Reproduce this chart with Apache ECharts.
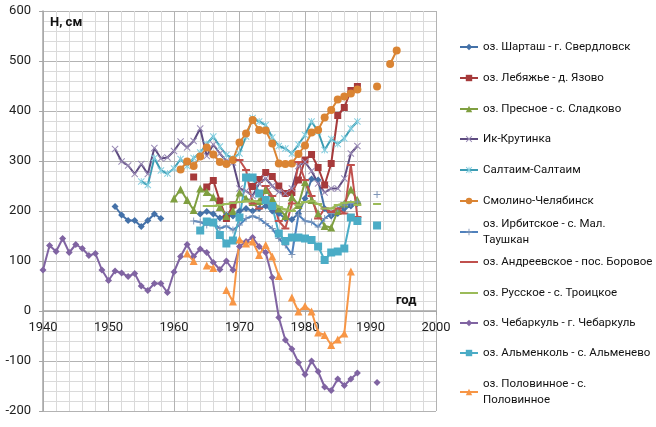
<!DOCTYPE html>
<html>
<head>
<meta charset="utf-8">
<script src="https://cdn.jsdelivr.net/npm/echarts@6/dist/echarts.min.js"></script>
<style>
  html, body { margin: 0; padding: 0; background: #fff; }
  #main { width: 656px; height: 427px; }
</style>
</head>
<body>
<div id="main"></div>
<script>
// годы начала рядов и уровни (см), null - нет данных
var shartashStart = 1951
var shartash = [209, 192, 181, 181, 169, 181, 194, 185, null, null, null, null, null,
  194, 199, 194, 186, 192, 190, 200, 205, 200, 205, 210, 200, 195, 185, 183, 195,
  225, 264, 262, 205, 190, 195, 205, 210, 215]

var lebyazhyeStart = 1963
var lebyazhye = [268, null, 248, 261, 220, 185, 212,
  null, null, 249, 263, 277, 269, 250, 235, 237, 262,
  302, 313, 287, 252, 295, 391, 407, 441, 449]

var presnoeStart = 1960
var presnoe = [225, 243, 222, 202, 245, 238, 228, 208, 190, 200,
  237, 225, 218, 220, 242, 225, 205, 190, 228, 212,
  258, 222, 195, 170, 167, 200, 215, 243, 222]

var ikStart = 1951
var ikKrutinka = [324, 299, 291, 274, 294, 274, 326, 305, 307, 320,
  339, 327, 340, 365, 310, 333, 315, 300, 297, 245,
  240, 230, 255, 265, 250, 238, 235, 245, 290, 298,
  280, 255, 237, 245, 245, 265, 315, 330]

var saltaimStart = 1955
var saltaim = [259, 252, 306, 281, 275,
  285, 304, 290, 306, 317, 334, 349, 329, 312, 305,
  315, 349, 386, 379, 372, 347, 330, 325, 315, 333,
  352, 379, 359, 322, 344, 334, 345, 365, 379]

var smolinoStart = 1961
var smolino = [283, 299, 290, 309, 327, 313, 298, 294, 302,
  337, 355, 382, 362, 361, 335, 295, 294, 295, 314,
  331, 357, 362, 387, 402, 423, 429, 435, 443,
  null, null, 449, null, 494, 521]

var irbitStart = 1963
var irbit = [180, 178, 172, 176, 165, 170, 162,
  172, 185, 190, 185, 175, 165, 145, 132, 113, 192,
  180, 178, 168, 185, 195, 205, 212, 215, 218,
  null, null, 233]

var andreevStart = 1970
var andreev = [302, 282, 215, 205, 250, 230, 180, 165, 215, 298,
  262, 230, 185, 205, 198, 205, 195, 292, 188]

var russkoeStart = 1965
var russkoe = [210, 210, 212, 214, 216,
  218, 220, 220, 218, 216, 212, 208, 203, 200, 212,
  218, 220, 214, 205, 205, 212, 216, 218, 212,
  null, null, 214]

var chebarkulStart = 1940
var chebarkul = [82, 131, 119, 145, 117, 133, 125, 111, 115, 82,
  61, 80, 76, 69, 75, 50, 41, 55, 55, 37,
  78, 109, 133, 109, 124, 117, 97, 83, 100, 82,
  129, 139, 147, 129, 117, 67, -13, -58, -76, -103,
  -127, -100, -121, -152, -159, -136, -149, -136, -124, null,
  null, -143]

var almenkolStart = 1964
var almenkol = [161, 179, 177, 152, 135, 141,
  187, 267, 267, 235, 222, 210, 155, 140, 147, 147,
  145, 142, 129, 102, 117, 119, 125, 187, 180,
  null, null, 171]

var polovinStart = 1962
var polovin = [115, 100, null, 91, 86, null, 42, 19,
  143, 135, 139, 112, 132, 109, 70, null, 27, -1,
  10, -1, -43, -48, -68, -57, -45, 79]

var names = [
  'оз. Шарташ - г. Свердловск',
  'оз. Лебяжье - д. Язово',
  'оз. Пресное - с. Сладково',
  'Ик-Крутинка',
  'Салтаим-Салтаим',
  'Смолино-Челябинск',
  'оз. Ирбитское - с. Мал.\nТаушкан',
  'оз. Андреевское - пос. Боровое',
  'оз. Русское - с. Троицкое',
  'оз. Чебаркуль - г. Чебаркуль',
  'оз. Альменколь - с. Альменево',
  'оз. Половинное - с.\nПоловинное'
]

// маркеры
var symX = 'path://M0,1L1,0L5,4L9,0L10,1L6,5L10,9L9,10L5,6L1,10L0,9L4,5Z'
var symStar = 'path://M0,1L1,0L5,4L9,0L10,1L6,5L10,9L9,10L5,6L1,10L0,9L4,5Z M4.4,0L5.6,0L5.6,10L4.4,10Z'
var symPlus = 'path://M4.3,0L5.7,0L5.7,4.3L10,4.3L10,5.7L5.7,5.7L5.7,10L4.3,10L4.3,5.7L0,5.7L0,4.3L4.3,4.3Z'
var symDash = 'path://M0,0L10,0L10,2L0,2Z'

function pts (start, vals) {
  return vals.map(function (v, i) { return [start + i, v] })
}

function mk (name, start, vals, color, symbol, size, symColor) {
  return {
    name: name,
    type: 'line',
    data: pts(start, vals),
    color: color,
    symbol: symbol,
    symbolSize: size,
    showAllSymbol: true,
    connectNulls: false,
    lineStyle: { color: color, width: 2 },
    itemStyle: { color: symColor || color, borderWidth: 0 },
    emphasis: { disabled: true }
  }
}

var series = [
  mk(names[0], shartashStart, shartash, '#4471a8', 'diamond', 7),
  mk(names[1], lebyazhyeStart, lebyazhye, '#a63a3b', 'rect', 7),
  mk(names[2], presnoeStart, presnoe, '#7f9f40', 'triangle', 8),
  mk(names[3], ikStart, ikKrutinka, '#5e4b80', symX, 7, '#9a8cb6'),
  mk(names[4], saltaimStart, saltaim, '#3b9cb3', symStar, 7, '#86cfe0'),
  mk(names[5], smolinoStart, smolino, '#da8433', 'circle', 8),
  mk(names[6], irbitStart, irbit, '#4f81bd', symPlus, 7, '#7f96b8'),
  mk(names[7], andreevStart, andreev, '#c0504d', symDash, [8, 2]),
  mk(names[8], russkoeStart, russkoe, '#9bbb59', symDash, [8, 2]),
  mk(names[9], chebarkulStart, chebarkul, '#8064a2', 'diamond', 7),
  mk(names[10], almenkolStart, almenkol, '#4bacc6', 'rect', 8),
  mk(names[11], polovinStart, polovin, '#f79646', 'triangle', 8)
]

// положение строк легенды
var legendTop = [39, 70, 101, 131, 162, 193, 216, 254, 285, 315, 345, 376]
var legends = names.map(function (n, i) {
  var lg = {
    data: [n],
    orient: 'vertical',
    left: 459,
    top: legendTop[i],
    padding: 0,
    itemWidth: 18,
    itemHeight: 8,
    itemGap: 0,
    selectedMode: false,
    textStyle: { fontSize: 11.5, color: '#111', lineHeight: 16, fontFamily: 'Roboto' }
  }
  // у Андреевского и Русского в легенде только линия
  if (i === 7 || i === 8) lg.itemStyle = { opacity: 0 }
  return lg
})

var myChart = echarts.init(document.getElementById('main'))
myChart.setOption({
  animation: false,
  textStyle: { fontFamily: 'Roboto' },
  legend: legends,
  grid: { left: 43, right: 220, top: 11, bottom: 16, outerBoundsMode: 'none', containLabel: false },
  xAxis: {
    type: 'value',
    min: 1940,
    max: 2000,
    interval: 10,
    position: 'bottom',
    offset: -100,
    name: 'год',
    nameLocation: 'end',
    nameGap: -40,
    nameTextStyle: { fontWeight: 'bold', fontSize: 13, color: '#111', align: 'left', verticalAlign: 'bottom', padding: [0, 0, 4, 0] },
    axisLine: { show: true, onZero: false, lineStyle: { color: '#a6a6a6', width: 1.5 } },
    axisTick: { show: true, length: 4, lineStyle: { color: '#a6a6a6' } },
    axisLabel: { color: '#222', fontSize: 13, margin: 10, formatter: function (v) { return String(v) } },
    splitLine: { show: true, lineStyle: { color: '#b3b3b3' } },
    minorTick: { show: false, splitNumber: 5 },
    minorSplitLine: { show: true, lineStyle: { color: '#dadada' } }
  },
  yAxis: {
    type: 'value',
    min: -200,
    max: 600,
    interval: 100,
    name: 'Н, см',
    nameLocation: 'end',
    nameGap: -12,
    nameTextStyle: { fontWeight: 'bold', fontSize: 13, color: '#111', align: 'left', verticalAlign: 'middle', padding: [0, 0, 0, 7] },
    axisLine: { show: true, onZero: false, lineStyle: { color: '#a6a6a6', width: 1.5 } },
    axisTick: { show: true, length: 4, lineStyle: { color: '#a6a6a6' } },
    axisLabel: { color: '#222', fontSize: 13, margin: 12 },
    splitLine: { show: true, lineStyle: { color: '#b3b3b3' } },
    minorTick: { show: false, splitNumber: 5 },
    minorSplitLine: { show: true, lineStyle: { color: '#dadada' } }
  },
  series: series
})
</script>
</body>
</html>
